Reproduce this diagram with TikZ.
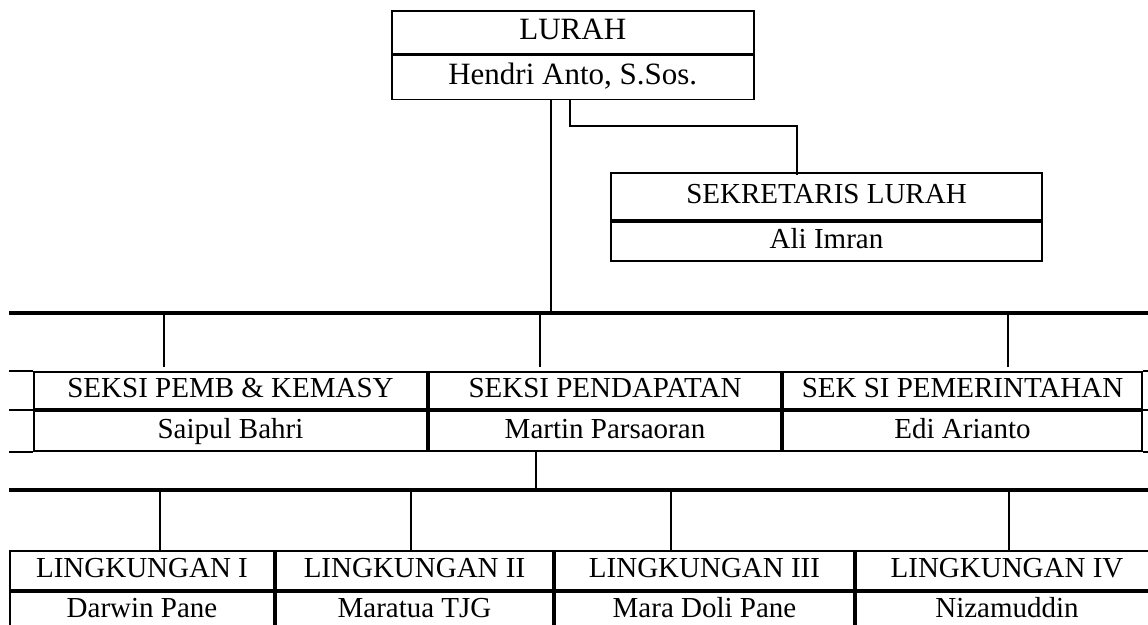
\documentclass[tikz,border=0pt]{standalone}
\usepackage{fontspec}
\setmainfont{Liberation Serif}
\usetikzlibrary{positioning}

\begin{document}
\begin{tikzpicture}[x=1pt,y=-1pt,
    cell/.style={rectangle,draw,line width=2pt,inner sep=0pt,anchor=north west,text height=20pt,text depth=6pt,font=\fontsize{29}{34}\selectfont},
    link/.style={line width=1.8pt},
    bus/.style={line width=3.5pt}]
    \useasboundingbox (0,0) rectangle (1148,624);

    % Lurah
    \node[cell,line width=1.5pt,minimum width=362pt,minimum height=43pt,text height=22pt,text depth=7pt,font=\fontsize{31}{36}\selectfont] (lurah) at (391,10) {LURAH};
    \node[cell,line width=1.5pt,minimum width=362pt,minimum height=44pt,text height=22pt,text depth=7pt,font=\fontsize{31}{36}\selectfont] (lurahN) at (lurah.south west) {Hendri Anto, S.Sos.};

    % Sekretaris
    \node[cell,minimum width=431pt,minimum height=47pt] (sek) at (610,172) {SEKRETARIS LURAH};
    \node[cell,minimum width=431pt,minimum height=39pt] (sekN) at (sek.south west) {Ali Imran};
    \draw[link] ([xshift=-3pt]lurahN.south) -- ++(0,26) -| ([xshift=-29.5pt,yshift=-3pt]sek.north);

    % Garis seksi
    \coordinate (busAl) at (9,313);
    \coordinate (busAr) at (1150,313);
    \draw[link] ([xshift=-22pt]lurahN.south) -- ([xshift=-22pt]lurahN.south |- busAl);
    \draw[bus] (busAl) -- (busAr);

    % Seksi
    \node[cell,minimum width=393pt,minimum height=37pt] (pemb) at (33,371) {SEKSI PEMB \& KEMASY};
    \node[cell,minimum width=393pt,minimum height=40pt] (pembN) at (pemb.south west) {Saipul Bahri};
    \node[cell,minimum width=352pt,minimum height=37pt] (pend) at (pemb.north east) {SEKSI PENDAPATAN};
    \node[cell,minimum width=352pt,minimum height=40pt] (pendN) at (pend.south west) {Martin Parsaoran};
    \node[cell,minimum width=359pt,minimum height=37pt] (pmr) at (pend.north east) {SEK SI PEMERINTAHAN};
    \node[cell,minimum width=359pt,minimum height=40pt] (pmrN) at (pmr.south west) {Edi Arianto};
    \draw[line width=2pt] (pemb.north west) -- ++(-24,0) (pembN.north west) -- ++(-24,0) (pembN.south west) -- ++(-24,0);
    \draw[line width=2pt] (pmr.north east) -- ++(14,0) (pmrN.north east) -- ++(14,0) (pmrN.south east) -- ++(14,0);
    \draw[link] ([xshift=-66.5pt,yshift=4pt]pemb.north) -- ++(0,-54);
    \draw[link] ([xshift=-65pt,yshift=4pt]pend.north) -- ++(0,-54);
    \draw[link] ([xshift=45.5pt,yshift=4pt]pmr.north) -- ++(0,-54);

    % Garis lingkungan
    \coordinate (busBl) at (9,490);
    \coordinate (busBr) at (1150,490);
    \draw[link] ([xshift=-69pt]pendN.south) -- ([xshift=-69pt]pendN.south |- busBl);
    \draw[bus] (busBl) -- (busBr);

    % Lingkungan
    \node[cell,minimum width=264pt,minimum height=39pt] (ling1) at (9,550) {LINGKUNGAN I};
    \node[cell,minimum width=264pt,minimum height=37pt] (ling1N) at (ling1.south west) {Darwin Pane};
    \node[cell,minimum width=277pt,minimum height=39pt] (ling2) at (ling1.north east) {LINGKUNGAN II};
    \node[cell,minimum width=277pt,minimum height=37pt] (ling2N) at (ling2.south west) {Maratua TJG};
    \node[cell,minimum width=299pt,minimum height=39pt] (ling3) at (ling2.north east) {LINGKUNGAN III};
    \node[cell,minimum width=299pt,minimum height=37pt] (ling3N) at (ling3.south west) {Mara Doli Pane};
    \node[cell,minimum width=302pt,minimum height=39pt] (ling4) at (ling3.north east) {LINGKUNGAN IV};
    \node[cell,minimum width=302pt,minimum height=37pt] (ling4N) at (ling4.south west) {Nizamuddin};
    \draw[link] ([xshift=18pt]ling1.north) -- ++(0,-60);
    \draw[link] ([xshift=-3.5pt]ling2.north) -- ++(0,-60);
    \draw[link] ([xshift=-33.5pt]ling3.north) -- ++(0,-60);
    \draw[link] ([xshift=2pt]ling4.north) -- ++(0,-60);
\end{tikzpicture}
\end{document}
